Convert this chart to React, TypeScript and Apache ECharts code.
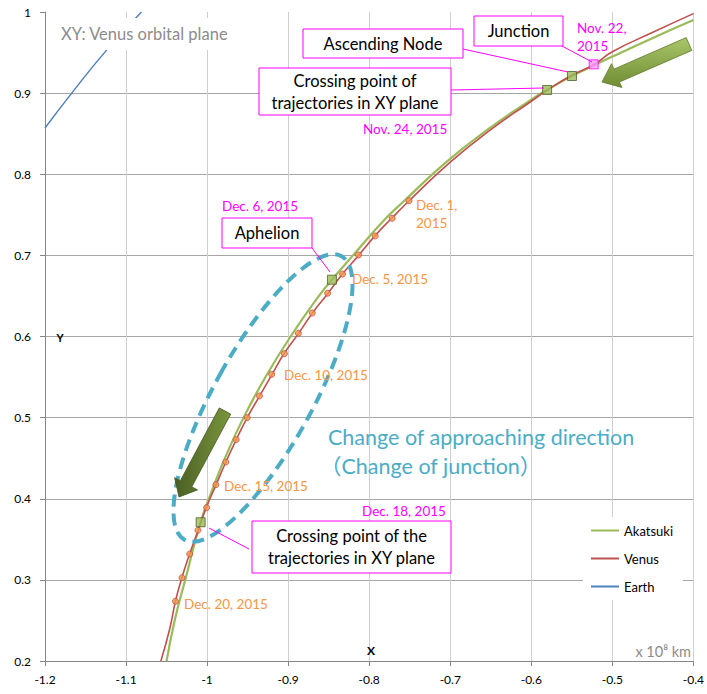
import React, { useEffect, useRef } from "react";
import * as echarts from "echarts";

// ---- data (x, y in 10^8 km) ----
const legendNames = ["Akatsuki", "Venus", "Earth"];

const akatsukiPath = [
  [-1.05, 0.2], [-1.04, 0.25], [-1.027, 0.3], [-1.008, 0.371], [-0.994, 0.41],
  [-0.978, 0.45], [-0.955, 0.5], [-0.928, 0.55], [-0.897, 0.6], [-0.862, 0.65],
  [-0.846, 0.67], [-0.82, 0.7], [-0.78, 0.745], [-0.757, 0.767], [-0.705, 0.815],
  [-0.654, 0.855], [-0.6, 0.892], [-0.5805, 0.904], [-0.55, 0.921], [-0.523, 0.934],
  [-0.5, 0.945], [-0.45, 0.968], [-0.4, 0.99],
];

const venusPath = [
  [-1.057, 0.2], [-1.046, 0.24], [-1.039, 0.274], [-1.031, 0.303], [-1.0215, 0.332],
  [-1.011, 0.361], [-1.001, 0.389], [-0.989, 0.417], [-0.977, 0.445], [-0.964, 0.473],
  [-0.9505, 0.5], [-0.935, 0.527], [-0.92, 0.553], [-0.905, 0.579], [-0.887, 0.604],
  [-0.87, 0.629], [-0.851, 0.653], [-0.833, 0.677], [-0.813, 0.7], [-0.793, 0.724],
  [-0.772, 0.746], [-0.751, 0.767], [-0.7, 0.815], [-0.65, 0.855], [-0.6, 0.89],
  [-0.58, 0.904], [-0.55, 0.922], [-0.523, 0.935], [-0.5, 0.951], [-0.45, 0.975],
  [-0.4, 0.998],
];

const earthPath = [
  [-1.2, 0.857], [-1.167, 0.9], [-1.124, 0.953], [-1.081, 1.0],
];

// Venus daily positions, Dec. 1 .. Dec. 20, 2015
const venusDaily = [
  [-0.7508, 0.7674], [-0.7717, 0.7457], [-0.7926, 0.7239], [-0.8132, 0.7004],
  [-0.8329, 0.677], [-0.8513, 0.6533], [-0.8702, 0.629], [-0.8874, 0.6039],
  [-0.9046, 0.5788], [-0.9203, 0.5534], [-0.9354, 0.5267], [-0.9505, 0.4999],
  [-0.9641, 0.4728], [-0.9769, 0.4453], [-0.9892, 0.4173], [-1.0006, 0.389],
  [-1.0113, 0.3611], [-1.0215, 0.3319], [-1.031, 0.3027], [-1.0391, 0.2736],
];

// Akatsuki key points: crossing (XY), ascending node, aphelion, crossing (XY)
const akatsukiKeyPoints = [
  [-0.5805, 0.9039], [-0.5498, 0.9211], [-0.846, 0.67], [-1.008, 0.371],
];
const junctionPoint = [[-0.523, 0.9355]];

const FONT = 'Lato, "Noto Sans", "Noto Sans CJK JP", sans-serif';
const MAGENTA = "#ff00ff";
const ORANGE = "#f79646";

function arrowPoints(sx: number, sy: number, tx: number, ty: number, w: number, h: number, L: number) {
  const dx = tx - sx, dy = ty - sy;
  const len = Math.hypot(dx, dy);
  const ux = dx / len, uy = dy / len;
  const nx = -uy, ny = ux;
  const bx = tx - ux * L, by = ty - uy * L;
  return [
    [sx + nx * w, sy + ny * w],
    [bx + nx * w, by + ny * w],
    [bx + nx * h, by + ny * h],
    [tx, ty],
    [bx - nx * h, by - ny * h],
    [bx - nx * w, by - ny * w],
    [sx - nx * w, sy - ny * w],
  ];
}

function boxText(x: number, y: number, w: number, h: number, lines: string[]) {
  const els: any[] = [
    {
      type: "rect",
      z: 100,
      shape: { x, y, width: w, height: h },
      style: { fill: "#fff", stroke: MAGENTA, lineWidth: 1 },
    },
  ];
  const lh = 22;
  const startY = y + h / 2 - ((lines.length - 1) * lh) / 2;
  lines.forEach((t, i) => {
    els.push({
      type: "text",
      z: 101,
      x: x + w / 2,
      y: startY + i * lh,
      style: {
        text: t,
        font: `16.5px ${FONT}`,
        fill: "#000",
        align: "center",
        verticalAlign: "middle",
      },
    });
  });
  return els;
}

function label(x: number, y: number, text: string, color: string, size = 13.5, align = "left") {
  return {
    type: "text",
    z: 102,
    x,
    y,
    style: { text, font: `${size}px ${FONT}`, fill: color, align, verticalAlign: "middle" },
  };
}

function leader(x1: number, y1: number, x2: number, y2: number) {
  return {
    type: "line",
    z: 99,
    shape: { x1, y1, x2, y2 },
    style: { stroke: MAGENTA, lineWidth: 1 },
  };
}

export default function App() {
  const ref = useRef<HTMLDivElement>(null);

  useEffect(() => {
    if (!ref.current) return;
    const chart = echarts.init(ref.current, null, { renderer: "svg" });

    const graphic: any[] = [
      // title
      {
        type: "rect",
        z: 100,
        shape: { x: 57, y: 18, width: 180, height: 32 },
        style: { fill: "#fff" },
      },
      label(61, 34, "XY: Venus orbital plane", "#8c8c8c", 16.5),
      // axis names
      {
        type: "text", z: 100, x: 60, y: 337,
        style: { text: "Y", font: `bold 11px ${FONT}`, fill: "#000", align: "center", verticalAlign: "middle" },
      },
      {
        type: "text", z: 100, x: 371, y: 650,
        style: { text: "X", font: `bold 12px ${FONT}`, fill: "#000", align: "center", verticalAlign: "middle" },
      },
      label(691, 651, "x 10\u2078 km", "#8c8c8c", 14.5, "right"),
      // dashed ellipse
      {
        type: "ellipse",
        z: 98,
        x: 263,
        y: 398,
        rotation: -0.506,
        shape: { cx: 0, cy: 0, rx: 49, ry: 162 },
        style: { fill: "none", stroke: "#4bacc6", lineWidth: 4, lineDash: [12, 7] },
      },
      // arrows
      {
        type: "polygon",
        z: 100,
        shape: { points: arrowPoints(689, 44, 602, 82, 7, 13, 16) },
        style: {
          fill: new echarts.graphic.LinearGradient(0, 0, 0, 1, [
            { offset: 0, color: "#a9c66a" },
            { offset: 1, color: "#6f8c33" },
          ]),
          stroke: "#5f7a2b",
          lineWidth: 0.8,
        },
      },
      {
        type: "polygon",
        z: 100,
        shape: { points: arrowPoints(225, 411, 179, 497, 6.5, 13, 15) },
        style: {
          fill: new echarts.graphic.LinearGradient(0, 0, 1, 0, [
            { offset: 0, color: "#4a5f24" },
            { offset: 1, color: "#7a963c" },
          ]),
          stroke: "#435720",
          lineWidth: 0.8,
        },
      },
      // leader lines
      leader(463, 49, 568, 72),
      leader(562, 46, 592, 62),
      leader(451, 90, 544, 88),
      leader(312, 248, 330, 272),
      leader(209, 528, 249, 549),
      // boxes
      ...boxText(303, 29, 160, 29, ["Ascending Node"]),
      ...boxText(474, 16, 89, 30, ["Junction"]),
      ...boxText(259, 68, 192, 47, ["Crossing point of", "trajectories in XY plane"]),
      ...boxText(222, 218, 90, 30, ["Aphelion"]),
      ...boxText(252, 521, 199, 52, ["Crossing point of the", "trajectories in XY plane"]),
      // magenta dates
      label(577, 28, "Nov. 22,", MAGENTA),
      label(577, 46, "2015", MAGENTA),
      label(363, 129, "Nov. 24, 2015", MAGENTA),
      label(222, 206, "Dec. 6, 2015", MAGENTA),
      label(362, 511, "Dec. 18, 2015", MAGENTA),
      // orange dates
      label(416, 205, "Dec. 1,", ORANGE),
      label(416, 223, "2015", ORANGE),
      label(352, 279, "Dec. 5, 2015", ORANGE),
      label(284, 375, "Dec. 10, 2015", ORANGE),
      label(224, 486, "Dec. 15, 2015", ORANGE),
      label(184, 604, "Dec. 20, 2015", ORANGE),
      // cyan note
      label(328, 437, "Change of approaching direction", "#4bacc6", 21.5),
      label(320, 466, "\uFF08Change of junction\uFF09", "#4bacc6", 21.5),
    ];

    chart.setOption({
      animation: false,
      backgroundColor: "#fff",
      textStyle: { fontFamily: FONT },
      grid: { left: 45, right: 12, top: 12, bottom: 33, containLabel: false },
      legend: {
        data: legendNames,
        orient: "vertical",
        left: 583,
        top: 517,
        padding: [7, 10, 7, 7],
        itemGap: 15,
        itemWidth: 28,
        itemHeight: 14,
        backgroundColor: "#fff",
        itemStyle: { color: "rgba(0,0,0,0)", borderColor: "rgba(0,0,0,0)", opacity: 0 },
        textStyle: { fontSize: 13, color: "#000", fontFamily: FONT },
      },
      xAxis: {
        type: "value",
        min: -1.2,
        max: -0.4,
        interval: 0.1,
        axisLine: { show: true, onZero: false, lineStyle: { color: "#868686" } },
        axisTick: { show: true, length: 5, lineStyle: { color: "#868686" } },
        axisLabel: { fontSize: 12, color: "#000", margin: 12, fontFamily: FONT },
        splitLine: { show: true, lineStyle: { color: "#cfcfcf", width: 1 } },
      },
      yAxis: {
        type: "value",
        min: 0.2,
        max: 1,
        interval: 0.1,
        axisLine: { show: true, onZero: false, lineStyle: { color: "#868686" } },
        axisTick: { show: true, length: 5, lineStyle: { color: "#868686" } },
        axisLabel: { fontSize: 12, color: "#000", margin: 14, fontFamily: FONT },
        splitLine: { show: true, showMaxLine: false, lineStyle: { color: "#a6a6a6", width: 1 } },
      },
      series: [
        {
          name: "Earth",
          type: "line",
          data: earthPath,
          smooth: true,
          symbol: "none",
          lineStyle: { color: "#4f81bd", width: 1.5 },
          itemStyle: { color: "#4f81bd" },
          z: 2,
        },
        {
          name: "Venus",
          type: "line",
          data: venusPath,
          smooth: true,
          symbol: "none",
          lineStyle: { color: "#c0504d", width: 1.6 },
          itemStyle: { color: "#c0504d" },
          z: 3,
        },
        {
          name: "Akatsuki",
          type: "line",
          data: akatsukiPath,
          smooth: true,
          symbol: "none",
          lineStyle: { color: "#9bbb59", width: 2.2 },
          itemStyle: { color: "#9bbb59" },
          z: 2,
        },
        {
          name: "Venus daily",
          type: "scatter",
          data: venusDaily,
          symbol: "circle",
          symbolSize: 6,
          itemStyle: { color: ORANGE, borderColor: "#c0504d", borderWidth: 1 },
          z: 4,
        },
        {
          name: "Akatsuki key",
          type: "scatter",
          data: akatsukiKeyPoints,
          symbol: "rect",
          symbolSize: 9,
          itemStyle: { color: "#9bbb59", borderColor: "#4f6228", borderWidth: 1 },
          z: 5,
        },
        {
          name: "Junction",
          type: "scatter",
          data: junctionPoint,
          symbol: "rect",
          symbolSize: 9,
          itemStyle: { color: "#ff99ff", borderColor: MAGENTA, borderWidth: 1 },
          z: 5,
        },
      ],
      graphic,
    });

    return () => chart.dispose();
  }, []);

  return (
    <div
      ref={ref}
      style={{ position: "fixed", left: 0, top: 0, width: 707, height: 694 }}
    />
  );
}
